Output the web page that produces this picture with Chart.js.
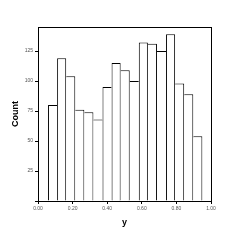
<!DOCTYPE html>
<html><head><meta charset="utf-8">
<script src="https://cdn.jsdelivr.net/npm/chart.js@4/dist/chart.umd.min.js"></script>
<style>html,body{margin:0;padding:0;background:#fff}#w{width:240px;height:240px}</style>
</head><body><div id="w"><canvas id="c" width="240" height="240"></canvas></div>
<script>
const binStart = 0.058;
const binEnd = 0.950;
const counts = [80, 119, 104, 76, 74, 68, 95, 115, 109, 100, 132, 131, 125, 139, 98, 89, 54];
const xTicks = [0, 0.2, 0.4, 0.6, 0.8, 1.0];
const yTicks = [0, 25, 50, 75, 100, 125];
const xTitle = 'y';
const yTitle = 'Count';

const bw = (binEnd - binStart) / counts.length;
const pts = counts.map((c, i) => ({x: binStart + (i + 0.5) * bw, y: c}));

const tickFont = {family: 'Liberation Sans, Arial, sans-serif', size: 5};
const titleFont = {family: 'Liberation Sans, Arial, sans-serif', size: 9, weight: 'bold'};

function edgeWidths(ctx) {
  const i = ctx.dataIndex, d = counts;
  const left = (i === 0 || d[i] >= d[i - 1]) ? 1 : 0;
  const right = (i === d.length - 1 || d[i] > d[i + 1]) ? 1 : 0;
  return {left, right, top: 1, bottom: 0};
}

new Chart(document.getElementById('c'), {
  type: 'bar',
  data: {datasets: [{
    data: pts,
    backgroundColor: '#ffffff',
    borderColor: '#000000',
    borderWidth: edgeWidths,
    borderSkipped: false,
    inflateAmount: 0,
    barPercentage: 1,
    categoryPercentage: 1
  }]},
  options: {
    responsive: false,
    animation: false,
    events: [],
    layout: {padding: {top: 27, right: 29, left: 0, bottom: 0}},
    plugins: {legend: {display: false}, tooltip: {enabled: false}},
    scales: {
      x: {
        type: 'linear', min: 0, max: 1, offset: false,
        afterBuildTicks: s => { s.ticks = xTicks.map(v => ({value: v})); },
        afterFit: s => { s.height = 39; },
        ticks: {font: tickFont, color: '#555', padding: 2, maxRotation: 0,
                callback: v => Number(v).toFixed(2)},
        grid: {display: true, drawOnChartArea: false, drawTicks: true, tickLength: 3, color: '#000', offset: false},
        border: {display: true, color: '#000', width: 1},
        title: {display: true, text: xTitle, font: titleFont, color: '#000', padding: {top: 0, bottom: 11.6}}
      },
      y: {
        min: 0, max: 145,
        afterBuildTicks: s => { s.ticks = yTicks.map(v => ({value: v})); },
        afterFit: s => { s.width = 38; },
        ticks: {font: tickFont, color: '#555', padding: 2,
                callback: v => v === 0 ? '' : String(v)},
        grid: {display: true, drawOnChartArea: false, drawTicks: true, tickLength: 3, color: '#000'},
        border: {display: true, color: '#000', width: 1},
        title: {display: true, text: yTitle, font: titleFont, color: '#000', padding: {top: 10, bottom: 0}}
      },
      x2: {
        type: 'linear', position: 'top', min: 0, max: 1, offset: false,
        afterFit: s => { s.height = 0; },
        ticks: {display: false}, grid: {display: false},
        border: {display: true, color: '#000', width: 1}
      },
      y2: {
        position: 'right', min: 0, max: 145,
        afterFit: s => { s.width = 0; },
        ticks: {display: false}, grid: {display: false},
        border: {display: true, color: '#000', width: 1}
      }
    }
  }
});
</script>
</body></html>
